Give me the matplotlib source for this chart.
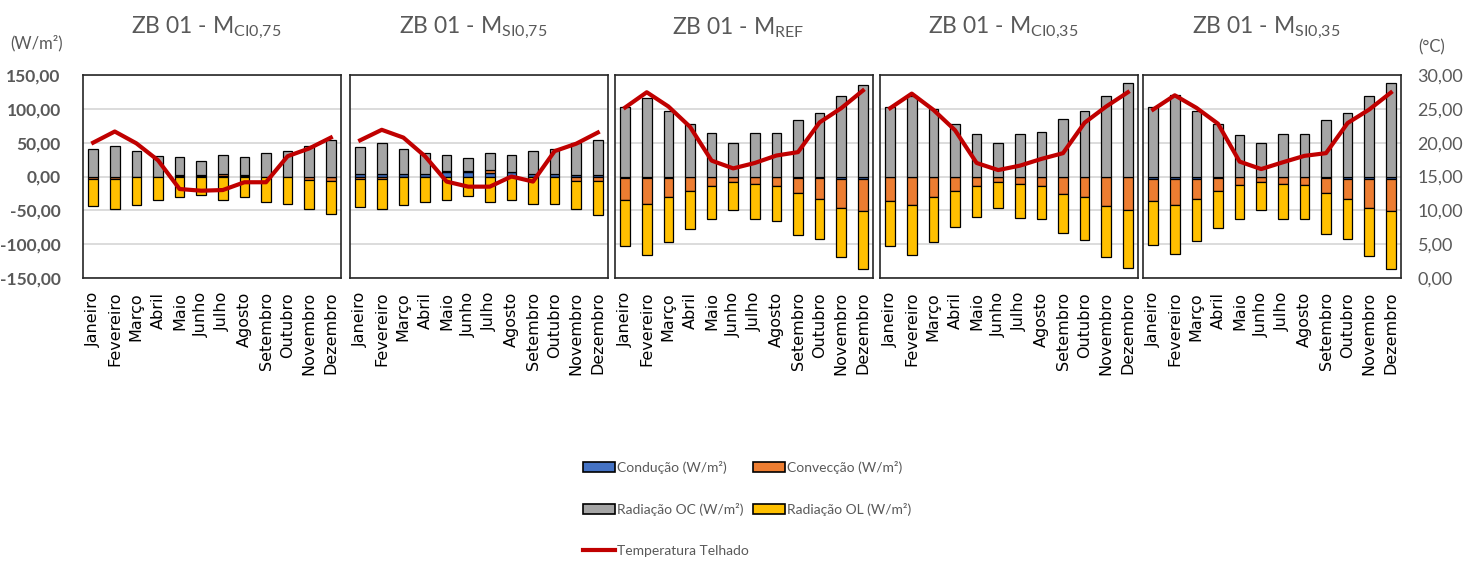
import matplotlib
matplotlib.use('Agg')
import matplotlib.pyplot as plt
import numpy as np
from matplotlib.patches import Patch
from matplotlib.lines import Line2D

plt.rcParams['font.family'] = ['Lato', 'DejaVu Sans']

meses = ['Janeiro', 'Fevereiro', 'Março', 'Abril', 'Maio', 'Junho', 'Julho',
         'Agosto', 'Setembro', 'Outubro', 'Novembro', 'Dezembro']

titulos = ['ZB 01 - M$_{\\mathregular{CI0{,}75}}$', 'ZB 01 - M$_{\\mathregular{SI0{,}75}}$',
           'ZB 01 - M$_{\\mathregular{REF}}$', 'ZB 01 - M$_{\\mathregular{CI0{,}35}}$',
           'ZB 01 - M$_{\\mathregular{SI0{,}35}}$']

# ZB 01 - M CI0,75
cond_ci075 = [0, 0, 0, 0, 1, 1, 1, 1, 0, 0, 0, 0]
conv_ci075 = [-3, -4, -1, -1, 1, 1, 3, 1, -1, -1, -5, -6]
radoc_ci075 = [40, 45, 37, 31, 27, 21, 28, 27, 34, 37, 45, 54]
radol_ci075 = [-40, -44, -41, -33, -31, -27, -35, -31, -36, -39, -43, -50]
temp_ci075 = [20.0, 21.65, 19.9, 17.4, 13.15, 12.9, 13.0, 14.15, 14.15, 18.0, 19.15, 20.75]

# ZB 01 - M SI0,75
cond_si075 = [4, 3, 3, 3, 7, 7, 5, 6, 3, 3, 2, 2]
conv_si075 = [-4, -4, -1, -1, 1, 1, 5, 1, -1, -1, -6, -6]
radoc_si075 = [39.5, 46, 38, 32, 24.5, 19, 25, 25.5, 35, 38, 47, 52]
radol_si075 = [-41, -44.5, -41, -36.5, -34, -28.5, -37, -34, -39, -39, -42.5, -50.5]
temp_si075 = [20.35, 21.9, 20.75, 18.0, 14.25, 13.5, 13.5, 15.0, 14.25, 18.75, 19.85, 21.5]

# ZB 01 - M REF
cond_ref = [-2, -2, -1.5, -1, -1, -1, -1, -1, -1.5, -2, -4, -4]
conv_ref = [-33, -39, -28.5, -20, -13, -7, -10, -13, -23.5, -31, -43, -47]
radoc_ref = [102, 116, 97, 77, 64, 50, 64, 64, 83, 94, 119, 135]
radol_ref = [-67, -75, -67, -56, -49, -42, -52, -52, -61, -60, -72, -86]
temp_ref = [25.2, 27.45, 25.35, 22.35, 17.35, 16.2, 17.0, 18.1, 18.6, 23.0, 25.1, 27.7]

# ZB 01 - M CI0,35
cond_ci035 = [-1, -1, -1, -0.5, -0.5, -0.5, -0.5, -0.5, -0.5, -1, -1, -1]
conv_ci035 = [-34.5, -40.5, -29.5, -21, -14, -7.5, -10, -14, -25, -29.5, -43, -49]
radoc_ci035 = [102, 118.5, 99.5, 77.5, 63.5, 49.5, 63.5, 66.5, 85, 96.5, 119.5, 137.5]
radol_ci035 = [-67, -75, -66.5, -53, -46, -39, -51, -49, -57.5, -63, -74.5, -84.5]
temp_ci035 = [25.1, 27.25, 24.85, 21.85, 17.0, 15.95, 16.6, 17.6, 18.45, 22.95, 25.35, 27.45]

# ZB 01 - M SI0,35
cond_si035 = [-3, -4, -3, -1.5, -1, -1, -1, -1, -1.5, -3, -4, -4]
conv_si035 = [-32.5, -37.5, -30, -20, -12, -7, -9.5, -12, -22.5, -30, -42.5, -47.5]
radoc_si035 = [102.5, 121, 97, 77.5, 61, 49.5, 63.5, 63.5, 83.5, 93.5, 118.5, 138.5]
radol_si035 = [-66, -73.5, -62.5, -55, -49.5, -41, -52, -49.5, -61, -60, -71, -85]
temp_si035 = [24.9, 27.0, 25.15, 22.8, 17.2, 16.1, 17.1, 18.05, 18.45, 22.9, 24.9, 27.4]

paineis = [
    (cond_ci075, conv_ci075, radoc_ci075, radol_ci075, temp_ci075),
    (cond_si075, conv_si075, radoc_si075, radol_si075, temp_si075),
    (cond_ref, conv_ref, radoc_ref, radol_ref, temp_ref),
    (cond_ci035, conv_ci035, radoc_ci035, radol_ci035, temp_ci035),
    (cond_si035, conv_si035, radoc_si035, radol_si035, temp_si035),
]

cores = ['#4472C4', '#ED7D31', '#A5A5A5', '#FFC000']
nomes = ['Condução (W/m²)', 'Convecção (W/m²)', 'Radiação OC (W/m²)', 'Radiação OL (W/m²)']
cinza = '#595959'

fig = plt.figure(figsize=(14.69, 5.63), dpi=100)

W, H = 1469, 563
esquerdas = [83, 350, 615, 880, 1143]
larg = 258
topo, base_y = 75, 278

def fmt(v):
    return f'{v:.2f}'.replace('.', ',')

x = np.arange(12)
for i, (cond, conv, oc, ol, temp) in enumerate(paineis):
    ax = fig.add_axes([esquerdas[i] / W, 1 - base_y / H, larg / W, (base_y - topo) / H])
    pos = np.zeros(12)
    neg = np.zeros(12)
    for vals, cor in zip([cond, conv, oc, ol], cores):
        v = np.array(vals, dtype=float)
        baixo = np.where(v >= 0, pos, neg)
        ax.bar(x, v, 0.45, bottom=baixo, color=cor, edgecolor='black', linewidth=0.9, zorder=2)
        pos = pos + np.clip(v, 0, None)
        neg = neg + np.clip(v, None, 0)
    ax.set_ylim(-150, 150)
    ax.set_xlim(-0.47, 11.47)
    ticks = np.arange(-150, 151, 50)
    ax.set_yticks(ticks)
    ax.grid(axis='y', color='#d9d9d9', linewidth=1.3)
    ax.set_axisbelow(True)
    ax.set_xticks(x)
    ax.set_xticklabels(meses, rotation=90, fontsize=11.5, family='DejaVu Sans', color='black')
    ax.tick_params(length=0, axis='x', pad=10)
    ax.tick_params(length=0, axis='y', pad=16)
    for s in ax.spines.values():
        s.set_color('#262626')
        s.set_linewidth(1.2)
    if i == 0:
        ax.set_yticklabels([fmt(t) for t in ticks], fontsize=12.5, fontweight='bold', color=cinza)
    else:
        ax.set_yticklabels([])

    ax2 = ax.twinx()
    ax2.plot(x, temp, color='#C00000', linewidth=3, zorder=3)
    ax2.set_ylim(0, 30)
    t2 = np.arange(0, 31, 5)
    ax2.set_yticks(t2)
    ax2.tick_params(length=0, pad=12)
    for s in ax2.spines.values():
        s.set_visible(False)
    if i == 4:
        ax2.set_yticklabels([fmt(t) for t in t2], fontsize=13, color=cinza)
    else:
        ax2.set_yticklabels([])

    fig.text((esquerdas[i] + larg / 2 - 6) / W, 1 - 28 / H, titulos[i], ha='center', va='center',
             fontsize=16.5, color=cinza)

fig.text(37 / W, 1 - 43 / H, '(W/m²)', ha='center', va='center', fontsize=12, color=cinza)
fig.text(1432 / W, 1 - 47 / H, '(°C)', ha='center', va='center', fontsize=12, color=cinza)

handles = [Patch(facecolor=c, edgecolor='black', linewidth=1.2) for c in cores]
linha = Line2D([], [], color='#C00000', linewidth=3)
ordem_h = [handles[0], handles[2], linha, handles[1], handles[3]]
ordem_l = [nomes[0], nomes[2], 'Temperatura Telhado', nomes[1], nomes[3]]
fig.legend(ordem_h, ordem_l, ncol=2, loc='upper left', bbox_to_anchor=(583 / W, 1 - 461 / H),
           frameon=False, fontsize=10, labelcolor=cinza, handlelength=2.3, handleheight=0.75,
           handletextpad=0.15, columnspacing=0.3, labelspacing=2.1, borderpad=0, borderaxespad=0)

fig.savefig('out.png', dpi=100)
